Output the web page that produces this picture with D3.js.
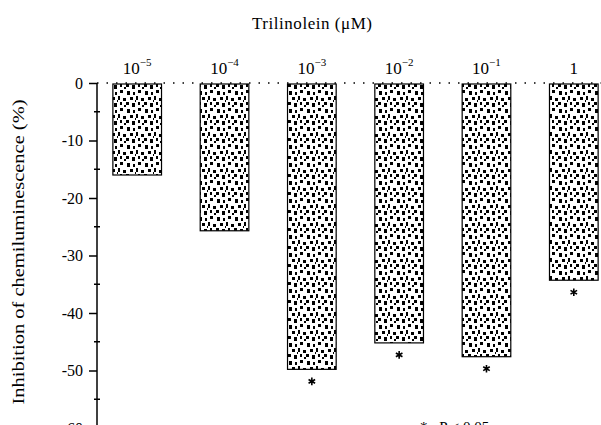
<!DOCTYPE html>
<html>
<head>
<meta charset="utf-8">
<script src="https://cdn.jsdelivr.net/npm/d3@7"></script>
<style>
  body { margin: 0; background: #fff; }
  svg { display: block; font-family: "Liberation Serif", "DejaVu Serif", serif; }
</style>
</head>
<body>
<div id="chart"></div>
<script>
// concentrations of trilinolein (uM), shown as 10^exp
var doses     = ["1e-5", "1e-4", "1e-3", "1e-2", "1e-1", "1"];
var exponents = [-5, -4, -3, -2, -1, null];
// inhibition of chemiluminescence (%)
var inhibition = [-16, -25.7, -49.8, -45.2, -47.6, -34.3];
var significant = [false, false, true, true, true, true];
var yTicks = [0, -10, -20, -30, -40, -50, -60];

var width = 601, height = 425;
var margin = {top: 83, right: 0, bottom: 0, left: 97};

var svg = d3.select("#chart").append("svg")
    .attr("width", width)
    .attr("height", height);

// stipple fill, like the scanned bars
var defs = svg.append("defs");
var pat = defs.append("pattern")
    .attr("id", "stipple")
    .attr("patternUnits", "userSpaceOnUse")
    .attr("width", 18).attr("height", 18);
pat.append("rect").attr("width", 18).attr("height", 18).attr("fill", "#fff");
var dots = [[1,1,3,4],[7,2,2,3],[12,0,3,3],[4,7,3,3],[10,6,2,4],[15,8,3,3],
            [0,12,3,3],[6,13,3,4],[12,12,2,3],[16,15,2,2],[9,10,1,2],[3,4,1,1]];
dots.forEach(function(d){
  pat.append("rect").attr("x", d[0]).attr("y", d[1])
     .attr("width", d[2]).attr("height", d[3]).attr("fill", "#000");
});

var x = d3.scaleBand()
    .domain(doses)
    .range([margin.left + 2, 612])
    .paddingInner(0.443)
    .paddingOuter(0.159);

var y = d3.scaleLinear()
    .domain([0, -60])
    .range([margin.top, margin.top + 345]);

// dotted zero line
svg.append("line")
    .attr("x1", margin.left).attr("x2", width)
    .attr("y1", y(0)).attr("y2", y(0))
    .attr("stroke", "#000").attr("stroke-width", 1.5)
    .attr("stroke-dasharray", "1.5,8");

// bars
svg.selectAll(".bar")
    .data(inhibition)
  .enter().append("rect")
    .attr("class", "bar")
    .attr("x", function(d, i){ return x(doses[i]); })
    .attr("y", y(0) + 1)
    .attr("width", x.bandwidth())
    .attr("height", function(d){ return y(d) - y(0) - 1; })
    .attr("fill", "url(#stipple)")
    .attr("stroke", "#000")
    .attr("stroke-width", 1.2);

// significance marks (drawn as symbols so they stay pure black)
var star = d3.symbol().type(d3.symbolAsterisk || d3.symbolCross).size(40);
svg.selectAll(".star")
    .data(inhibition.map(function(v, i){ return {v: v, i: i}; })
                    .filter(function(d){ return significant[d.i]; }))
  .enter().append("path")
    .attr("class", "star")
    .attr("transform", function(d){
      return "translate(" + (x(doses[d.i]) + x.bandwidth() / 2) + "," + (y(d.v) + 12) + ")";
    })
    .attr("d", star)
    .attr("fill", "none")
    .attr("stroke", "#000")
    .attr("stroke-width", 1.6);

// y axis
var yAxis = d3.axisLeft(y)
    .tickValues(yTicks)
    .tickSize(8)
    .tickPadding(6)
    .tickFormat(function(d){ return d === 0 ? "0" : String(d); });

var gy = svg.append("g")
    .attr("transform", "translate(" + margin.left + ",0)")
    .call(yAxis);
gy.select(".domain").attr("stroke-width", 1.5).attr("d", "M0," + y(0) + "V" + height);
gy.selectAll(".tick line").attr("stroke-width", 1.5);
gy.selectAll(".tick text").attr("font-size", 16).attr("font-family", "Liberation Serif").attr("fill", "#000");

// minor ticks at the half steps
svg.selectAll(".minor")
    .data(d3.range(-5, -60, -10))
  .enter().append("line")
    .attr("x1", margin.left - 3).attr("x2", margin.left + 3)
    .attr("y1", function(d){ return y(d); })
    .attr("y2", function(d){ return y(d); })
    .attr("stroke", "#000").attr("stroke-width", 1.5);

// category labels on top
var lab = svg.selectAll(".dose")
    .data(doses)
  .enter().append("text")
    .attr("class", "dose")
    .attr("x", function(d){ return x(d) + x.bandwidth() / 2; })
    .attr("y", 74)
    .attr("text-anchor", "middle")
    .attr("font-size", 17);
lab.each(function(d, i){
  var t = d3.select(this);
  if (exponents[i] === null) { t.text(d); return; }
  t.append("tspan").text("10");
  t.append("tspan").attr("dy", -8).attr("font-size", 11).text("−" + Math.abs(exponents[i]));
});

// title
svg.append("text")
    .attr("x", 312).attr("y", 29)
    .attr("text-anchor", "middle")
    .attr("font-size", 17)
    .attr("textLength", 120)
    .text("Trilinolein (μM)");

// y label
svg.append("text")
    .attr("transform", "translate(24," + 252 + ") rotate(-90)")
    .attr("text-anchor", "middle")
    .attr("font-size", 16)
    .attr("textLength", 305)
    .attr("lengthAdjust", "spacingAndGlyphs")
    .text("Inhibition of chemiluminescence (%)");

// footnote, cut off by the bottom edge as in the scan
svg.append("text")
    .attr("x", 420).attr("y", 432)
    .attr("font-size", 15)
    .text("* : P < 0.05");
</script>
</body>
</html>
